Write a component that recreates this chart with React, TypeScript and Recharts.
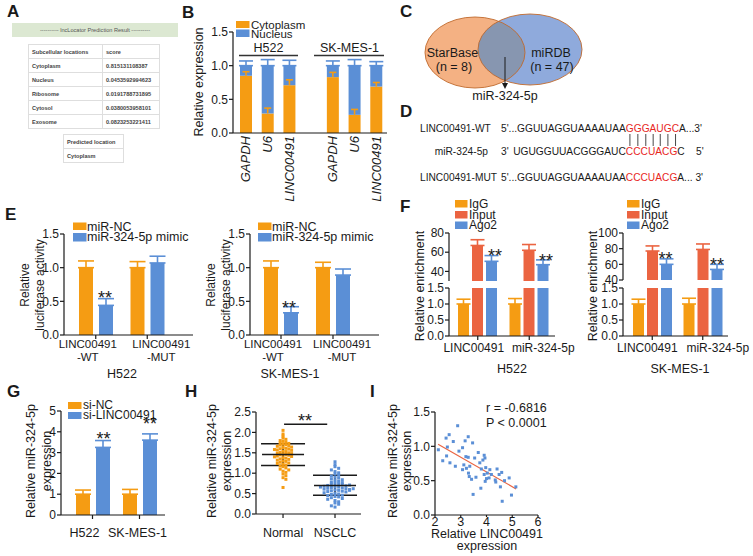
import React from "react";
import {
  BarChart,
  Bar,
  XAxis,
  YAxis,
  ErrorBar,
  ScatterChart,
  Scatter,
  ReferenceLine,
} from "recharts";

const FONT = "'Liberation Sans', Arial, Helvetica, sans-serif";
const INK = "#1a1a1a";
const ORANGE = "#F59C13";
const BLUE = "#5B8FD6";
const RED = "#EB6441";
const SEQ_RED = "#E8271E";

// A - lncLocator prediction
const locations = ["Cytoplasm", "Nucleus", "Ribosome", "Cytosol", "Exosome"];
const scores = [
  "0.815131108387",
  "0.0453592994623",
  "0.0191788731895",
  "0.0380053958101",
  "0.0823253221411",
];
const predicted = "Cytoplasm";

// B - subcellular fractionation
const bGenes = ["GAPDH", "U6", "LINC00491", "", "GAPDH", "U6", "LINC00491"];
const bCyto = [0.85, 0.29, 0.71, null, 0.83, 0.27, 0.69];
const bCytoErr = [0.06, 0.08, 0.08, null, 0.07, 0.08, 0.06];
const bNuc = [0.15, 0.71, 0.29, null, 0.17, 0.73, 0.31];
const bNucErr = [0.07, 0.09, 0.08, null, 0.07, 0.09, 0.06];

// C - venn
const vennSets = ["StarBase", "miRDB"];
const vennCounts = [8, 47];
const vennShared = "miR-324-5p";

// E - luciferase
const eCats = ["LINC00491\n-WT", "LINC00491\n-MUT"];
const eH522NC = [1.0, 1.0];
const eH522NCErr = [0.1, 0.09];
const eH522Mimic = [0.44, 1.07];
const eH522MimicErr = [0.1, 0.1];
const eSKNC = [1.0, 1.0];
const eSKNCErr = [0.1, 0.08];
const eSKMimic = [0.33, 0.89];
const eSKMimicErr = [0.09, 0.09];

// F - RIP
const fCats = ["LINC00491", "miR-324-5p"];
const fH522IgG = [1.0, 1.0];
const fH522IgGErr = [0.15, 0.17];
const fH522Input = [67, 62];
const fH522InputErr = [6, 6];
const fH522Ago2 = [50.5, 47];
const fH522Ago2Err = [6, 5];
const fSKIgG = [1.0, 1.0];
const fSKIgGErr = [0.15, 0.18];
const fSKInput = [77, 79];
const fSKInputErr = [6.5, 7];
const fSKAgo2 = [60, 53.5];
const fSKAgo2Err = [7, 6.5];

// G - knockdown
const gCells = ["H522", "SK-MES-1"];
const gNC = [1.0, 1.0];
const gNCErr = [0.2, 0.23];
const gSi = [3.25, 3.6];
const gSiErr = [0.33, 0.3];

// H - tissue expression
const hGroups = ["Normal", "NSCLC"];
const hNormal = [
  2.05, 1.96, 1.91, 1.86, 1.83, 1.8, 1.78, 1.76, 1.74, 1.73, 1.71, 1.7, 1.69,
  1.67, 1.66, 1.64, 1.63, 1.61, 1.6, 1.59, 1.57, 1.56, 1.54, 1.53, 1.51, 1.5,
  1.49, 1.48, 1.47, 1.46, 1.45, 1.44, 1.42, 1.41, 1.4, 1.38, 1.37, 1.35, 1.34,
  1.32, 1.3, 1.29, 1.27, 1.25, 1.24, 1.22, 1.2, 1.18, 1.16, 1.13, 1.1, 1.08,
  1.05, 1.02, 0.98, 0.94, 0.89, 0.85, 0.65, 1.58,
];
const hNSCLC = [
  1.28, 1.21, 1.16, 1.12, 1.08, 1.04, 1.01, 0.98, 0.95, 0.93, 0.9, 0.88, 0.86,
  0.84, 0.82, 0.8, 0.78, 0.77, 0.75, 0.74, 0.73, 0.72, 0.7, 0.69, 0.68, 0.67,
  0.66, 0.65, 0.64, 0.63, 0.62, 0.61, 0.6, 0.59, 0.58, 0.57, 0.56, 0.55, 0.54,
  0.52, 0.5, 0.49, 0.48, 0.46, 0.45, 0.43, 0.42, 0.4, 0.38, 0.36, 0.33, 0.3,
  0.27, 0.24, 0.2, 0.17, 0.71, 0.66, 0.62, 0.58,
];
const hMean = [1.46, 0.7];
const hSdLow = [0.27, 0.24];
const hSdHigh = [0.26, 0.25];

// I - correlation
const iLinc = [
  2.13, 2.3, 2.43, 2.55, 2.48, 2.45, 2.58, 2.71, 2.79, 2.88, 2.93, 3.07, 3.07,
  3.12, 3.17, 3.2, 3.22, 3.29, 3.29, 3.3, 3.33, 3.35, 3.42, 3.46, 3.48, 3.54,
  3.59, 3.68, 3.74, 3.78, 3.8, 3.86, 3.91, 3.94, 3.91, 3.95, 3.97, 4.0, 4.03,
  4.1, 4.13, 4.19, 4.34, 4.36, 4.41, 4.49, 4.54, 4.59, 4.61, 4.7, 4.88, 4.97,
  5.14,
];
const iMir = [
  0.95, 0.79, 1.12, 1.17, 0.99, 0.86, 0.76, 1.07, 0.71, 1.3, 0.93, 0.98, 0.66,
  0.73, 1.08, 0.85, 0.68, 1.14, 0.84, 0.61, 0.56, 0.71, 0.52, 1.05, 0.3, 0.83,
  0.55, 0.91, 0.76, 0.39, 0.67, 0.8, 0.87, 0.83, 0.59, 0.49, 0.69, 0.53, 0.61,
  0.54, 0.66, 0.59, 0.51, 0.48, 0.67, 0.59, 0.41, 0.62, 0.2, 0.5, 0.54, 0.29,
  0.41,
];
const iFitX = [2.12, 5.15];
const iFitY = [1.03, 0.38];

// ---------- tables for recharts
const bData = bGenes.map((name, i) => ({
  name,
  cyto: bCyto[i],
  cytoErr: bCytoErr[i],
  nuc: bNuc[i],
  nucErr: bNucErr[i] == null ? null : [0, bNucErr[i]],
}));

const lucData = (nc: number[], ncE: number[], mi: number[], miE: number[]) =>
  eCats.map((name, i) => ({
    name,
    nc: nc[i],
    ncErr: [0, ncE[i]],
    mimic: mi[i],
    mimicErr: [0, miE[i]],
  }));
const eH522Data = lucData(eH522NC, eH522NCErr, eH522Mimic, eH522MimicErr);
const eSKData = lucData(eSKNC, eSKNCErr, eSKMimic, eSKMimicErr);

const ripData = (
  igg: number[], iggE: number[], inp: number[], inpE: number[], ago: number[], agoE: number[]
) =>
  fCats.map((name, i) => ({
    name,
    igg: igg[i],
    iggErr: [0, iggE[i]],
    input: inp[i],
    inputErr: [0, inpE[i]],
    ago2: ago[i],
    ago2Err: [0, agoE[i]],
  }));
const fH522Data = ripData(fH522IgG, fH522IgGErr, fH522Input, fH522InputErr, fH522Ago2, fH522Ago2Err);
const fSKData = ripData(fSKIgG, fSKIgGErr, fSKInput, fSKInputErr, fSKAgo2, fSKAgo2Err);

const gData = gCells.map((name, i) => ({
  name,
  nc: gNC[i],
  ncErr: [0, gNCErr[i]],
  si: gSi[i],
  siErr: [0, gSiErr[i]],
}));

// simple beeswarm: spread points that share a value bin sideways
function swarm(values: number[], center: number, bin: number, step: number) {
  const used = new Map<number, number>();
  return values.map((v) => {
    const b = Math.round(v / bin);
    const k = used.get(b) ?? 0;
    used.set(b, k + 1);
    const off = k === 0 ? 0 : (k % 2 ? 1 : -1) * Math.ceil(k / 2) * step;
    return { x: center + off, y: v };
  });
}
const hNormalPts = swarm(hNormal, 1, 0.08, 0.055);
const hNSCLCPts = swarm(hNSCLC, 2, 0.08, 0.07);
const hSummary = hGroups.map((g, i) => ({
  x: i + 1,
  y: hMean[i],
  sd: [hSdLow[i], hSdHigh[i]],
}));

const iPts = iLinc.map((x, i) => ({ x, y: iMir[i] }));

// ---------- layout helpers
type Box = { x0: number; x1: number; y0: number; y1: number };
const YW = 44;
const PAD = 14;
const PAD_R = 36;
function frame(b: Box, xh: number) {
  return {
    style: { position: "absolute" as const, left: b.x0 - YW - PAD, top: b.y0 - PAD },
    width: b.x1 - b.x0 + YW + PAD + PAD_R,
    height: b.y1 - b.y0 + xh + 2 * PAD,
    margin: { top: PAD, right: PAD_R, bottom: PAD, left: PAD },
  };
}

const axisStroke = { stroke: INK, strokeWidth: 1.2 };
const tickText = { fill: INK, fontSize: 12, fontFamily: FONT };

const yAx = (ticks: number[], domain: [number, number], dec: number) => ({
  type: "number" as const,
  width: YW,
  ticks,
  domain,
  allowDataOverflow: true,
  interval: 0 as const,
  tickFormatter: (v: number) => v.toFixed(dec),
  tick: tickText,
  tickSize: 4,
  tickMargin: 1,
  axisLine: axisStroke,
  tickLine: axisStroke,
});

const CatTick = (props: any) => {
  const { x, y, payload, index, shifts, size, lead } = props;
  const sx = x + (shifts?.[index] ?? 0);
  const lines = String(payload.value).split("\n");
  return (
    <text x={sx} y={y} textAnchor="middle" fill={INK} fontSize={size} fontFamily={FONT}>
      {lines.map((l, i) => (
        <tspan key={i} x={sx} dy={i === 0 ? lead ?? "0.75em" : "1.17em"}>
          {l}
        </tspan>
      ))}
    </text>
  );
};

const RotTick = (props: any) => {
  const { x, y, payload } = props;
  if (!payload.value) return null;
  return (
    <text
      x={x}
      y={y}
      dy="0.35em"
      transform={`rotate(-90 ${x} ${y})`}
      textAnchor="end"
      fontStyle="italic"
      fill={INK}
      fontSize={13}
      fontFamily={FONT}
    >
      {payload.value}
    </text>
  );
};

// nucleus segment that also carries the cytoplasm whisker above the orange part
const NucShape = (p: any) => {
  const { x, y, width, height, payload } = p;
  if (!payload || payload.nuc == null || !height) return null;
  const len = (payload.cytoErr * height) / payload.nuc;
  const cx = x + width / 2;
  const base = y + height;
  return (
    <g>
      <rect x={x} y={y} width={width} height={height} fill={BLUE} />
      <line x1={cx} x2={cx} y1={base} y2={base - len} stroke={ORANGE} strokeWidth={1.6} />
      <line x1={cx - 3.5} x2={cx + 3.5} y1={base - len} y2={base - len} stroke={ORANGE} strokeWidth={1.6} />
    </g>
  );
};

const Dot = (color: string) => (p: any) =>
  <rect x={p.cx - 1.5} y={p.cy - 1.5} width={3} height={3} fill={color} />;

const MeanLine = (p: any) => (
  <line x1={p.cx - 21} x2={p.cx + 21} y1={p.cy} y2={p.cy} stroke={INK} strokeWidth={1.6} />
);

// ---------- overlay text helpers
const T = ({ x, y, children, size = 12.5, anchor = "start", weight, fill = INK, rot }: any) => (
  <text
    x={x}
    y={y}
    fontSize={size}
    textAnchor={rot ? "middle" : anchor}
    fontWeight={weight}
    fill={fill}
    fontFamily={FONT}
    dominantBaseline={rot ? "central" : undefined}
    transform={rot ? `rotate(-90 ${x} ${y})` : undefined}
  >
    {children}
  </text>
);

const Key = ({ x, y, w = 13.5, h = 7.5, color, label, tx, ty, size = 12.5 }: any) => (
  <g>
    <rect x={x} y={y} width={w} height={h} fill={color} />
    <T x={tx} y={ty} size={size}>
      {label}
    </T>
  </g>
);

const Stars = ({ x, y }: any) => (
  <T x={x} y={y} size={18} anchor="middle">
    **
  </T>
);

// Arial advance widths, for placing the pairing ticks under the seed letters
const ADV: Record<string, number> = {
  "5": 0.556, "3": 0.556, "'": 0.191, ".": 0.278, " ": 0.278,
  G: 0.778, U: 0.722, A: 0.667, C: 0.722,
};
const SEQ_FS = 10.2;
const tw = (s: string) => [...s].reduce((a, c) => a + (ADV[c] ?? 0.6), 0) * SEQ_FS;

const WT_PRE = "5'...GGUUAGGUAAAAUAA";
const WT_SEED = "GGGAUGC";
const MIR_SEQ = "UGUGGUUACGGGAUC";
const MIR_SEED = "CCCUACG";
const MUT_SEED = "CCCUACG";

function Panels() {
  const seedStart = 501 + tw(WT_PRE);
  const pairX = [...WT_SEED].map((c, i) => seedStart + tw(WT_SEED.slice(0, i)) + tw(c) / 2);

  return (
    <svg
      width={753}
      height={556}
      style={{ position: "absolute", left: 0, top: 0, pointerEvents: "none" }}
    >
      {/* panel letters */}
      {[
        ["A", 7, 17], ["B", 182, 18], ["C", 400, 17], ["D", 400, 117], ["E", 5, 220],
        ["F", 400, 212], ["G", 7, 397], ["H", 185, 397], ["I", 370, 397],
      ].map(([l, x, y]) => (
        <T key={l as string} x={x} y={y} size={17} weight="bold">
          {l}
        </T>
      ))}

      {/* B */}
      <T x={199} y={82} rot>Relative expression</T>
      <T x={268.5} y={52} anchor="middle">H522</T>
      <line x1={239} x2={298} y1={55.5} y2={55.5} stroke="#333" strokeWidth={1.3} />
      <T x={349.5} y={52} anchor="middle">SK-MES-1</T>
      <line x1={314} x2={384} y1={55.5} y2={55.5} stroke="#333" strokeWidth={1.3} />
      <Key x={236} y={21} h={7} color={ORANGE} label="Cytoplasm" tx={251} ty={28.5} size={11.5} />
      <Key x={236} y={29.5} color={BLUE} label="Nucleus" tx={251} ty={38} size={11.5} />

      {/* C */}
      <defs>
        <clipPath id="vennClip">
          <ellipse cx={475} cy={52.5} rx={50} ry={35.5} />
        </clipPath>
      </defs>
      <ellipse cx={475} cy={52.5} rx={50} ry={35.5} fill="#F4B183" />
      <ellipse cx={530} cy={49.5} rx={52} ry={35.5} fill="#8FAADC" />
      <ellipse cx={530} cy={49.5} rx={52} ry={35.5} fill="#8796B0" clipPath="url(#vennClip)" />
      <ellipse cx={475} cy={52.5} rx={50} ry={35.5} fill="none" stroke="#C0692B" strokeWidth={0.9} />
      <ellipse cx={530} cy={49.5} rx={52} ry={35.5} fill="none" stroke="#C0692B" strokeWidth={0.9} />
      <T x={452.5} y={56.5} anchor="middle">{vennSets[0]}</T>
      <T x={454} y={70.5} anchor="middle">{`(n = ${vennCounts[0]})`}</T>
      <T x={551} y={56.5} anchor="middle">{vennSets[1]}</T>
      <T x={552} y={70.5} anchor="middle">{`(n = ${vennCounts[1]})`}</T>
      <line x1={505} x2={505} y1={57} y2={84} stroke={INK} strokeWidth={1} />
      <polygon points="502,83 508,83 505,89" fill={INK} />
      <T x={505} y={100} anchor="middle">{vennShared}</T>

      {/* D */}
      <T x={420} y={132} size={SEQ_FS}>LINC00491-WT</T>
      <T x={501} y={132} size={SEQ_FS}>
        {WT_PRE}
        <tspan fill={SEQ_RED}>{WT_SEED}</tspan>
        {"A...3'"}
      </T>
      {pairX.map((x, i) => (
        <line key={i} x1={x} x2={x} y1={134} y2={146} stroke="#333" strokeWidth={0.9} />
      ))}
      <T x={488} y={155} size={SEQ_FS} anchor="end">miR-324-5p</T>
      <T x={501} y={155} size={SEQ_FS}>{"3'"}</T>
      <T x={seedStart - tw(MIR_SEQ)} y={155} size={SEQ_FS}>
        {MIR_SEQ}
        <tspan fill={SEQ_RED}>{MIR_SEED}</tspan>
        {"C"}
      </T>
      <T x={696} y={155} size={SEQ_FS}>{"5'"}</T>
      <T x={420} y={181} size={SEQ_FS}>LINC00491-MUT</T>
      <T x={501} y={181} size={SEQ_FS}>
        {WT_PRE}
        <tspan fill={SEQ_RED}>{MUT_SEED}</tspan>
        {"A... 3'"}
      </T>

      {/* E */}
      <T x={25} y={285} size={12} rot>Relative</T>
      <T x={39.5} y={285} size={12} rot>luciferase activity</T>
      <T x={211} y={285} size={12} rot>Relative</T>
      <T x={225.5} y={285} size={12} rot>luciferase activity</T>
      <Key x={73} y={222.5} color={ORANGE} label="miR-NC" tx={87} ty={230.5} />
      <Key x={73} y={233} h={8.5} color={BLUE} label="miR-324-5p mimic" tx={87} ty={240.5} />
      <Key x={258} y={222.5} color={ORANGE} label="miR-NC" tx={272} ty={230.5} />
      <Key x={258} y={233} h={8.5} color={BLUE} label="miR-324-5p mimic" tx={272} ty={240.5} />
      <Stars x={105} y={304} />
      <Stars x={289} y={314} />
      <T x={122} y={378} anchor="middle">H522</T>
      <T x={290} y={378} anchor="middle">SK-MES-1</T>

      {/* F */}
      <T x={420} y={286} rot>Relative enrichment</T>
      <T x={593} y={286} rot>Relative enrichment</T>
      {[455, 627].map((kx) => (
        <g key={kx}>
          <Key x={kx} y={200} w={12.5} h={7.5} color={ORANGE} label="IgG" tx={kx + 14} ty={207.5} size={12} />
          <Key x={kx} y={211} w={12.5} h={7.5} color={RED} label="Input" tx={kx + 14} ty={218.5} size={12} />
          <Key x={kx} y={221.5} w={12.5} h={7.5} color={BLUE} label="Ago2" tx={kx + 14} ty={229} size={12} />
        </g>
      ))}
      <Stars x={495} y={262} />
      <Stars x={546} y={267} />
      <Stars x={665.5} y={265} />
      <Stars x={717} y={271} />
      <T x={512} y={373} anchor="middle">H522</T>
      <T x={680} y={373} anchor="middle">SK-MES-1</T>

      {/* G */}
      <T x={31} y={461} rot>Relative miR-324-5p</T>
      <T x={47} y={461} rot>expression</T>
      <Key x={68} y={402} h={7} color={ORANGE} label="si-NC" tx={83} ty={409} size={12} />
      <Key x={68} y={412} h={7} color={BLUE} label="si-LINC00491" tx={83} ty={419} size={12} />
      <Stars x={103.5} y={445} />
      <Stars x={150} y={430} />

      {/* H */}
      <T x={212} y={461} rot>Relative miR-324-5p</T>
      <T x={227} y={461} rot>expression</T>
      <Stars x={305} y={427} />

      {/* I */}
      <T x={393} y={461} rot>Relative miR-324-5p</T>
      <T x={407} y={461} rot>expression</T>
      <T x={486} y={412}>r = -0.6816</T>
      <T x={486} y={427}>P &lt; 0.0001</T>
      <T x={487} y={538} anchor="middle">Relative LINC00491</T>
      <T x={487} y={550} anchor="middle">expression</T>
    </svg>
  );
}

function LocatorTable() {
  const base: React.CSSProperties = {
    position: "absolute",
    fontFamily: FONT,
    fontWeight: "bold",
    fontSize: 5.6,
    color: "#444",
  };
  const td: React.CSSProperties = {
    border: "1px solid #dedede",
    height: 13,
    padding: "0 0 0 3px",
    whiteSpace: "nowrap",
  };
  return (
    <>
      <div
        style={{
          ...base,
          fontWeight: "normal",
          left: 12,
          top: 23,
          width: 166,
          height: 14,
          background: "#DCE8D2",
          color: "#555",
          lineHeight: "14px",
          textAlign: "center",
        }}
      >
        ---------- lncLocator Prediction Result ----------
      </div>
      <table style={{ ...base, left: 28, top: 44, width: 132, borderCollapse: "collapse" }}>
        <tbody>
          <tr>
            <td style={{ ...td, width: 70 }}>Subcellular locations</td>
            <td style={td}>score</td>
          </tr>
          {locations.map((l, i) => (
            <tr key={l}>
              <td style={td}>{l}</td>
              <td style={td}>{scores[i]}</td>
            </tr>
          ))}
        </tbody>
      </table>
      <table style={{ ...base, left: 63, top: 134, width: 61, borderCollapse: "collapse" }}>
        <tbody>
          <tr>
            <td style={td}>Predicted location</td>
          </tr>
          <tr>
            <td style={td}>{predicted}</td>
          </tr>
        </tbody>
      </table>
    </>
  );
}

const errProps = (color: string, w: number) => ({
  stroke: color,
  strokeWidth: 1.6,
  width: w,
  direction: "y" as const,
  isAnimationActive: false,
});

function LucChart({ box, data, pad, shifts }: any) {
  const f = frame(box, 30);
  return (
    <div style={f.style}>
      <BarChart width={f.width} height={f.height} margin={f.margin} data={data} barSize={14} barGap={6}>
        <XAxis
          dataKey="name"
          height={30}
          interval={0}
          padding={pad}
          axisLine={axisStroke}
          tickLine={axisStroke}
          tickSize={4}
          tickMargin={0}
          tick={<CatTick shifts={shifts} size={11.5} />}
        />
        <YAxis {...yAx([0, 0.5, 1, 1.5], [0, 1.5], 1)} />
        <Bar dataKey="nc" fill={ORANGE} isAnimationActive={false}>
          <ErrorBar dataKey="ncErr" {...errProps(ORANGE, 8)} />
        </Bar>
        <Bar dataKey="mimic" fill={BLUE} isAnimationActive={false}>
          <ErrorBar dataKey="mimicErr" {...errProps(BLUE, 8)} />
        </Bar>
      </BarChart>
    </div>
  );
}

function RipChart({ lower, upper, data, pad, shifts, upTicks, upDomain }: any) {
  const fl = frame(lower, 22);
  const fu = frame(upper, 0);
  return (
    <>
      <div style={fu.style}>
        <BarChart width={fu.width} height={fu.height} margin={fu.margin} data={data} barSize={11} barGap={3}>
          <XAxis dataKey="name" hide padding={pad} />
          <YAxis {...yAx(upTicks, upDomain, 0)} />
          <Bar dataKey="igg" fill="none" isAnimationActive={false} />
          <Bar dataKey="input" fill={RED} isAnimationActive={false}>
            <ErrorBar dataKey="inputErr" {...errProps(RED, 7)} />
          </Bar>
          <Bar dataKey="ago2" fill={BLUE} isAnimationActive={false}>
            <ErrorBar dataKey="ago2Err" {...errProps(BLUE, 7)} />
          </Bar>
        </BarChart>
      </div>
      <div style={fl.style}>
        <BarChart width={fl.width} height={fl.height} margin={fl.margin} data={data} barSize={11} barGap={3}>
          <XAxis
            dataKey="name"
            height={22}
            interval={0}
            padding={pad}
            axisLine={axisStroke}
            tickLine={axisStroke}
            tickSize={4}
            tickMargin={0}
            tick={<CatTick shifts={shifts} size={12} lead="1em" />}
          />
          <YAxis {...yAx([0, 0.5, 1, 1.5], [0, 1.5], 1)} />
          <Bar dataKey="igg" fill={ORANGE} isAnimationActive={false}>
            <ErrorBar dataKey="iggErr" {...errProps(ORANGE, 7)} />
          </Bar>
          <Bar dataKey="input" fill={RED} isAnimationActive={false} />
          <Bar dataKey="ago2" fill={BLUE} isAnimationActive={false} />
        </BarChart>
      </div>
    </>
  );
}

export default function App() {
  const fB = frame({ x0: 233, x1: 387, y0: 32, y1: 133 }, 75);
  const fG = frame({ x0: 61, x1: 165, y0: 411, y1: 515 }, 30);
  const fH = frame({ x0: 256, x1: 361, y0: 412, y1: 514 }, 30);
  const fI = frame({ x0: 435, x1: 538, y0: 412, y1: 515 }, 20);

  return (
    <div
      style={{
        position: "relative",
        width: 753,
        height: 556,
        background: "#fff",
        overflow: "hidden",
        fontFamily: FONT,
      }}
    >
      <style>{"body{margin:0}"}</style>

      <LocatorTable />

      {/* B */}
      <div style={fB.style}>
        <BarChart width={fB.width} height={fB.height} margin={fB.margin} data={bData} barSize={12}>
          <XAxis
            dataKey="name"
            height={75}
            interval={0}
            padding={{ left: 2, right: 0 }}
            axisLine={axisStroke}
            tickLine={false}
            tickSize={0}
            tickMargin={3}
            tick={<RotTick />}
          />
          <YAxis {...yAx([0, 0.5, 1, 1.5], [0, 1.5], 1)} />
          <Bar dataKey="cyto" stackId="s" fill={ORANGE} isAnimationActive={false} />
          <Bar dataKey="nuc" stackId="s" fill={BLUE} shape={<NucShape />} isAnimationActive={false}>
            <ErrorBar dataKey="nucErr" {...errProps(BLUE, 7)} />
          </Bar>
        </BarChart>
      </div>

      {/* E */}
      <LucChart
        box={{ x0: 64, x1: 193, y0: 234, y1: 335 }}
        data={eH522Data}
        pad={{ left: 6, right: 20 }}
        shifts={[-8, 14]}
      />
      <LucChart
        box={{ x0: 250, x1: 379, y0: 234, y1: 335 }}
        data={eSKData}
        pad={{ left: 5, right: 20 }}
        shifts={[-8, 9]}
      />

      {/* F */}
      <RipChart
        lower={{ x0: 449, x1: 555, y0: 288, y1: 336 }}
        upper={{ x0: 449, x1: 555, y0: 233, y1: 281 }}
        data={fH522Data}
        pad={{ left: 3, right: 0 }}
        shifts={[-4, 14]}
        upTicks={[40, 60, 80]}
        upDomain={[30, 80]}
      />
      <RipChart
        lower={{ x0: 623, x1: 728, y0: 288, y1: 336 }}
        upper={{ x0: 623, x1: 728, y0: 233, y1: 280 }}
        data={fSKData}
        pad={{ left: 4, right: 0 }}
        shifts={[-5, 15]}
        upTicks={[40, 60, 80, 100]}
        upDomain={[40, 100]}
      />

      {/* G */}
      <div style={fG.style}>
        <BarChart width={fG.width} height={fG.height} margin={fG.margin} data={gData} barSize={14} barGap={6}>
          <XAxis
            dataKey="name"
            height={30}
            interval={0}
            padding={{ left: 8, right: 2 }}
            axisLine={axisStroke}
            tickLine={axisStroke}
            tickSize={4}
            tickMargin={9}
            tick={<CatTick shifts={[-8, -2]} size={12.5} />}
          />
          <YAxis {...yAx([0, 1, 2, 3, 4, 5], [0, 5], 0)} />
          <Bar dataKey="nc" fill={ORANGE} isAnimationActive={false}>
            <ErrorBar dataKey="ncErr" {...errProps(ORANGE, 8)} />
          </Bar>
          <Bar dataKey="si" fill={BLUE} isAnimationActive={false}>
            <ErrorBar dataKey="siErr" {...errProps(BLUE, 8)} />
          </Bar>
        </BarChart>
      </div>

      {/* H */}
      <div style={fH.style}>
        <ScatterChart width={fH.width} height={fH.height} margin={fH.margin}>
          <XAxis
            type="number"
            dataKey="x"
            height={30}
            domain={[0.48, 2.5]}
            ticks={[1, 2]}
            interval={0}
            allowDataOverflow
            tickFormatter={(v: number) => hGroups[v - 1] ?? ""}
            tick={{ ...tickText, fontSize: 12.5 }}
            axisLine={axisStroke}
            tickLine={axisStroke}
            tickSize={4}
            tickMargin={10}
          />
          <YAxis dataKey="y" {...yAx([0, 0.5, 1, 1.5, 2, 2.5], [0, 2.5], 1)} />
          <Scatter data={hNormalPts} shape={Dot(ORANGE)} isAnimationActive={false} />
          <Scatter data={hNSCLCPts} shape={Dot(BLUE)} isAnimationActive={false} />
          <Scatter data={hSummary} shape={<MeanLine />} isAnimationActive={false}>
            <ErrorBar dataKey="sd" {...errProps(INK, 22)} />
          </Scatter>
          <ReferenceLine
            segment={[
              { x: 1.02, y: 2.2 },
              { x: 1.85, y: 2.2 },
            ]}
            stroke={INK}
            strokeWidth={1.3}
          />
        </ScatterChart>
      </div>

      {/* I */}
      <div style={fI.style}>
        <ScatterChart width={fI.width} height={fI.height} margin={fI.margin}>
          <XAxis
            type="number"
            dataKey="x"
            height={20}
            domain={[2, 6]}
            ticks={[2, 3, 4, 5, 6]}
            interval={0}
            allowDataOverflow
            tick={{ ...tickText, fontSize: 12.5 }}
            axisLine={axisStroke}
            tickLine={axisStroke}
            tickSize={2}
            tickMargin={0}
          />
          <YAxis dataKey="y" {...yAx([0, 0.5, 1, 1.5], [0, 1.5], 1)} />
          <Scatter data={iPts} shape={Dot(BLUE)} isAnimationActive={false} />
          <ReferenceLine
            segment={[
              { x: iFitX[0], y: iFitY[0] },
              { x: iFitX[1], y: iFitY[1] },
            ]}
            stroke={RED}
            strokeWidth={1.2}
          />
        </ScatterChart>
      </div>

      <Panels />
    </div>
  );
}
